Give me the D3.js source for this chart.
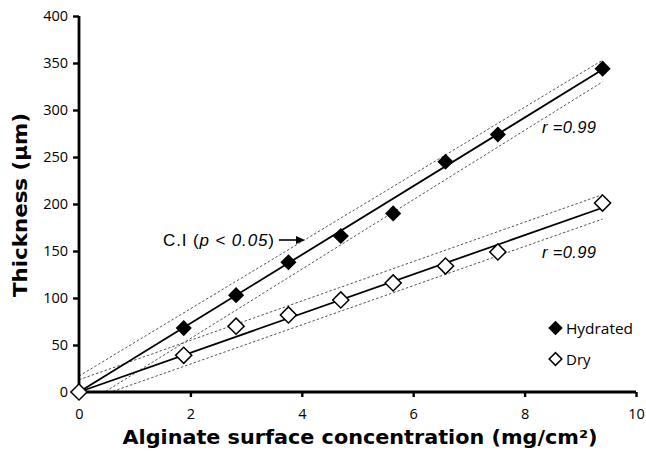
<!DOCTYPE html>
<html><head><meta charset="utf-8">
<script src="https://cdn.jsdelivr.net/npm/d3@7"></script>
<style>body{margin:0;background:#fff}svg{display:block}</style>
</head><body><svg id="c" width="646" height="454"></svg>
<script>
const xValues = [0, 1.88, 2.82, 3.76, 4.7, 5.64, 6.58, 7.52, 9.4];
const hydrated = [0, 68, 103, 138, 166, 190, 245, 274, 344];
const dry = [0, 39, 70, 82, 98, 116, 134, 149, 201];
const hydratedFit = [[0, 0], [9.4, 343]];
const dryFit = [[0, 0], [9.4, 196]];
const ciLines = [
  [[0, 17], [9.4, 353]],
  [[0, -17], [9.4, 330]],
  [[0, 13], [9.4, 210]],
  [[0, -12], [9.4, 184]]
];
const xTicks = [0, 2, 4, 6, 8, 10];
const yTicks = [0, 50, 100, 150, 200, 250, 300, 350, 400];

const svg = d3.select("#c");
const x = d3.scaleLinear().domain([0, 10]).range([79, 636]);
const y = d3.scaleLinear().domain([0, 400]).range([392, 16]);

svg.append("defs").append("clipPath").attr("id","clip")
  .append("rect").attr("x",79).attr("y",16).attr("width",557).attr("height",376);

const line = d3.line().x(d => x(d[0])).y(d => y(d[1]));
const g = svg.append("g").attr("clip-path","url(#clip)");
ciLines.forEach(l => g.append("path").attr("d", line(l)).attr("fill","none")
  .attr("stroke","#555").attr("stroke-width",1).attr("stroke-dasharray","2.5,2"));
[hydratedFit, dryFit].forEach(l => svg.append("path").attr("d", line(l)).attr("fill","none")
  .attr("stroke","#000").attr("stroke-width",1.8));

// axes
const xa = svg.append("g").attr("transform","translate(0,392)")
  .call(d3.axisBottom(x).tickValues(xTicks).tickSize(5).tickPadding(12).tickFormat(d3.format("d")));
const ya = svg.append("g").attr("transform","translate(79,0)")
  .call(d3.axisLeft(y).tickValues(yTicks).tickSize(6).tickPadding(5).tickFormat(d3.format("d")));
[xa, ya].forEach(a => {
  a.select(".domain").attr("stroke","#000").attr("stroke-width",2.8);
  a.selectAll(".tick line").attr("stroke","#000").attr("stroke-width",2.4);
  a.selectAll(".tick text").attr("font-family","'Open Sans', sans-serif").attr("font-size",14.5).attr("fill","#000");
});
xa.select(".domain").attr("d","M79,0H636");
ya.select(".domain").attr("d","M0,392V16");

const sym = d3.symbol().type(d3.symbolSquare).size(130);
svg.append("g").selectAll("path").data(xValues.map((v,i)=>[v,dry[i]])).join("path")
  .attr("d", sym).attr("transform", d => `translate(${x(d[0])},${y(d[1])}) rotate(45)`)
  .attr("fill","#fff").attr("stroke","#000").attr("stroke-width",1.5);
svg.append("g").selectAll("path").data(xValues.slice(1).map((v,i)=>[v,hydrated[i+1]])).join("path")
  .attr("d", sym).attr("transform", d => `translate(${x(d[0])},${y(d[1])}) rotate(45)`)
  .attr("fill","#000");

// annotations
const ann = svg.append("text").attr("x",163).attr("y",246)
  .attr("font-family","'Liberation Sans', Arial, sans-serif").attr("font-size",17).attr("fill","#000")
  .attr("textLength",111).attr("lengthAdjust","spacing");
ann.append("tspan").text("C.I (");
ann.append("tspan").attr("font-style","italic").text("p < 0.05");
ann.append("tspan").text(")");
svg.append("line").attr("x1",279).attr("x2",300).attr("y1",240).attr("y2",240).attr("stroke","#000").attr("stroke-width",1.6);
svg.append("path").attr("d","M296,236L305,240L296,244Z").attr("fill","#000");

[[542,133],[542,258]].forEach(p => svg.append("text").attr("x",p[0]).attr("y",p[1])
  .attr("font-family","'Liberation Sans', Arial, sans-serif").attr("font-size",16.5)
  .attr("font-style","italic").attr("textLength",54).attr("lengthAdjust","spacing").text("r =0.99"));

// legend
const lsym = d3.symbol().type(d3.symbolSquare).size(105);
svg.append("path").attr("d", lsym).attr("transform","translate(555.5,328) rotate(45)").attr("fill","#000");
svg.append("path").attr("d", d3.symbol().type(d3.symbolSquare).size(80)).attr("transform","translate(555.5,359) rotate(45)")
  .attr("fill","#fff").attr("stroke","#000").attr("stroke-width",1.5);
svg.append("text").attr("x",566).attr("y",334).attr("font-family","'Open Sans', sans-serif").attr("font-size",15)
  .attr("textLength",67).attr("lengthAdjust","spacingAndGlyphs").text("Hydrated");
svg.append("text").attr("x",566).attr("y",365).attr("font-family","'Open Sans', sans-serif").attr("font-size",15).text("Dry");

// axis titles
svg.append("text").attr("x",360).attr("y",444).attr("text-anchor","middle")
  .attr("font-family","'DejaVu Sans', sans-serif").attr("font-weight","bold").attr("font-size",19)
  .attr("textLength",475).attr("lengthAdjust","spacingAndGlyphs")
  .text("Alginate surface concentration (mg/cm²)");
svg.append("text").attr("transform","translate(27,205) rotate(-90)").attr("text-anchor","middle")
  .attr("font-family","'DejaVu Sans', sans-serif").attr("font-weight","bold").attr("font-size",19)
  .attr("textLength",184).attr("lengthAdjust","spacingAndGlyphs")
  .text("Thickness  (µm)");
</script></body></html>
